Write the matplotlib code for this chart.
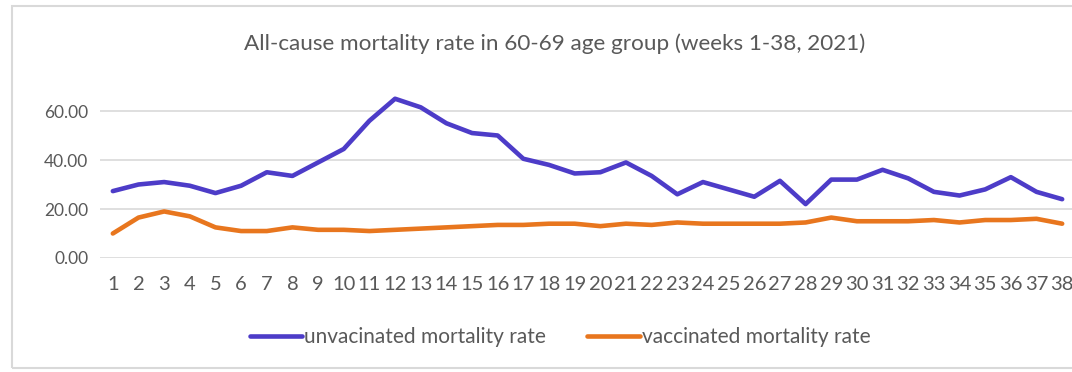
import matplotlib
matplotlib.use("Agg")
import matplotlib.pyplot as plt
from matplotlib.patches import Rectangle

weeks = list(range(1, 39))
unvaccinated = [27.3, 30.0, 31.0, 29.5, 26.5, 29.5, 35.0, 33.5, 39.0, 44.5,
                56.0, 65.0, 61.5, 55.0, 51.0, 50.0, 40.5, 38.0, 34.5, 35.0,
                39.0, 33.5, 26.0, 31.0, 28.0, 25.0, 31.5, 22.0, 32.0, 32.0,
                36.0, 32.5, 27.0, 25.5, 28.0, 33.0, 27.0, 24.0]
vaccinated = [10.0, 16.5, 19.0, 17.0, 12.5, 11.0, 11.0, 12.5, 11.5, 11.5,
              11.0, 11.5, 12.0, 12.5, 13.0, 13.5, 13.5, 14.0, 14.0, 13.0,
              14.0, 13.5, 14.5, 14.0, 14.0, 14.0, 14.0, 14.5, 16.5, 15.0,
              15.0, 15.0, 15.5, 14.5, 15.5, 15.5, 16.0, 14.0]
y_ticks = [0, 20, 40, 60]
title = "All-cause mortality rate in 60-69 age group (weeks 1-38, 2021)"
labels = ["unvacinated mortality rate", "vaccinated mortality rate"]

plt.rcParams["font.family"] = ["Lato", "DejaVu Sans"]
text_gray = "#595959"

fig = plt.figure(figsize=(10.72, 3.72), dpi=100)
W, H = 1072, 372

# outer chart frame
fig.patches.append(Rectangle((12 / W, 1 - 368 / H), 1.2, (368 - 6) / H,
                             transform=fig.transFigure, fill=False,
                             edgecolor="#d9d9d9", linewidth=1.5))

ax = fig.add_axes([100 / W, 1 - 258 / H, 975 / W, (258 - 86.5) / H])
ax.plot(weeks, unvaccinated, color="#4d3cc8", linewidth=3.3, label=labels[0],
        solid_joinstyle="round", solid_capstyle="round")
ax.plot(weeks, vaccinated, color="#e8761e", linewidth=3.3, label=labels[1],
        solid_joinstyle="round", solid_capstyle="round")

ax.set_xlim(0.5, 38.5)
ax.set_ylim(0, 70)
ax.set_yticks(y_ticks)
ax.set_yticklabels([f"{v:.2f}" for v in y_ticks])
ax.set_xticks(weeks)
ax.set_xticklabels([str(w) for w in weeks])
ax.grid(axis="y", color="#d9d9d9", linewidth=1.2)
ax.set_axisbelow(True)
for s in ax.spines.values():
    s.set_visible(False)
ax.tick_params(axis="both", length=0, colors=text_gray)
ax.tick_params(axis="x", pad=13, labelsize=14.5)
ax.tick_params(axis="y", pad=8.5, labelsize=12.5)

fig.text(555 / W, 1 - 44 / H, title, ha="center", va="center",
         fontsize=16.2, color=text_gray)

fig.legend(loc="center", bbox_to_anchor=(560 / W, 1 - 337 / H), ncol=2,
           frameon=False, fontsize=15, handlelength=2.5, handletextpad=0.1,
           columnspacing=2.0, labelcolor=text_gray)

fig.savefig("out.png", dpi=100, facecolor="white")
